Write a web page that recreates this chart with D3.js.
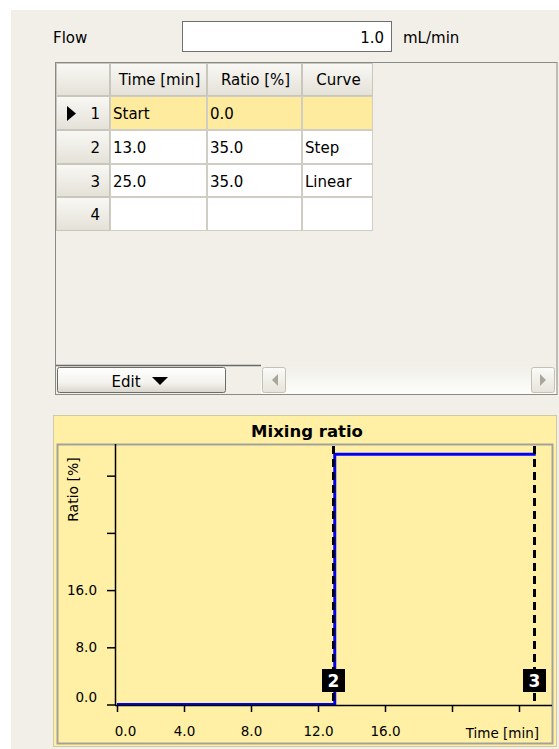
<!DOCTYPE html>
<html><head><meta charset="utf-8">
<script src="https://cdn.jsdelivr.net/npm/d3@7/dist/d3.min.js"></script>
<style>
html,body{margin:0;padding:0;background:#fff;}
svg{display:block;font-family:"DejaVu Sans",sans-serif;}
</style></head>
<body><svg id="c" width="559" height="749"></svg>
<script>
// ---- data ----
const flowValue = "1.0";
const flowUnit = "mL/min";
const columns = ["Time [min]", "Ratio [%]", "Curve"];
const rowNumbers = [1, 2, 3, 4];
const timeLabels = ["Start", "13.0", "25.0", ""];
const ratioLabels = ["0.0", "35.0", "35.0", ""];
const curveLabels = ["", "Step", "Linear", ""];
const times = [0, 13, 25];
const ratios = [0, 35, 35];
const curves = ["Start", "Step", "Linear"];
const markerIds = [2, 3];
const markerTimes = [13, 25];
const xTicks = [0, 4, 8, 12, 16, 20, 24];
const xTickLabels = ["0.0", "4.0", "8.0", "12.0", "16.0", "", ""];
const yTicks = [0, 8, 16, 24, 32];
const yTickLabels = ["0.0", "8.0", "16.0", "", ""];

const svg = d3.select("#c");
const defs = svg.append("defs");
function grad(id, stops) {
  const g = defs.append("linearGradient").attr("id", id).attr("x1", 0).attr("y1", 0).attr("x2", 0).attr("y2", 1);
  stops.forEach(s => g.append("stop").attr("offset", s[0]).attr("stop-color", s[1]));
}
grad("hdr", [[0, "#f9f8f4"], [1, "#e4e1d8"]]);
grad("btn", [[0, "#ffffff"], [0.6, "#f4f3ee"], [1, "#d8d5cb"]]);
grad("trk", [[0, "#f0efe9"], [1, "#fdfdfb"]]);
grad("sbtn", [[0, "#fbfbf8"], [1, "#e6e4da"]]);

const BG = "#f1efe8";
svg.append("rect").attr("x", 11).attr("y", 10).attr("width", 548).attr("height", 739).attr("fill", BG);

// ---- flow row ----
svg.append("text").attr("x", 53).attr("y", 43).attr("font-size", 15).attr("fill", "#000").text("Flow");
svg.append("rect").attr("x", 182.5).attr("y", 21.5).attr("width", 209).attr("height", 30)
  .attr("fill", "#fff").attr("stroke", "#707070");
svg.append("text").attr("x", 384).attr("y", 43).attr("font-size", 15).attr("text-anchor", "end").text(flowValue);
svg.append("text").attr("x", 403).attr("y", 43).attr("font-size", 15).text(flowUnit);

// ---- table ----
const colX = [56, 110, 207, 302, 373];
const rowY = [63, 96, 130, 164, 197, 231];
svg.append("rect").attr("x", 55.5).attr("y", 62.5).attr("width", 501.5).attr("height", 332)
  .attr("fill", BG).attr("stroke", "#8a8a86");
const tbl = svg.append("g").attr("font-size", 15);
for (let c = 0; c < 4; c++) {
  tbl.append("rect").attr("x", colX[c] + 0.5).attr("y", rowY[0] + 0.5)
    .attr("width", colX[c + 1] - colX[c] - 1).attr("height", rowY[1] - rowY[0] - 1)
    .attr("fill", "url(#hdr)").attr("stroke", "#c9c6bb");
  if (c > 0) tbl.append("text").attr("x", (colX[c] + colX[c + 1]) / 2 + 1).attr("y", rowY[0] + 22)
    .attr("text-anchor", "middle").text(columns[c - 1]);
}
rowNumbers.forEach((n, i) => {
  const y0 = rowY[i + 1], y1 = rowY[i + 2];
  tbl.append("rect").attr("x", colX[0] + 0.5).attr("y", y0 + 0.5).attr("width", colX[1] - colX[0] - 1)
    .attr("height", y1 - y0 - 1).attr("fill", "url(#hdr)").attr("stroke", "#c9c6bb");
  tbl.append("text").attr("x", 100).attr("y", (y0 + y1) / 2 + 6).attr("text-anchor", "end").text(n);
  const vals = [timeLabels[i], ratioLabels[i], curveLabels[i]];
  for (let c = 1; c < 4; c++) {
    tbl.append("rect").attr("x", colX[c] + 0.5).attr("y", y0 + 0.5).attr("width", colX[c + 1] - colX[c] - 1)
      .attr("height", y1 - y0 - 1).attr("fill", i === 0 ? "#ffeb9e" : "#fff").attr("stroke", "#cfcdc4");
    tbl.append("text").attr("x", colX[c] + 3).attr("y", (y0 + y1) / 2 + 6).text(vals[c - 1]);
  }
});
tbl.append("path").attr("d", "M67,106 L67,121 L76,113.5 Z").attr("fill", "#000");

// ---- edit bar ----
svg.append("line").attr("x1", 56).attr("x2", 261).attr("y1", 365.5).attr("y2", 365.5).attr("stroke", "#6a6a66").attr("stroke-width", 1.5);
svg.append("rect").attr("x", 57.5).attr("y", 367.5).attr("width", 168).attr("height", 25)
  .attr("rx", 2).attr("fill", "url(#btn)").attr("stroke", "#6d6d68");
svg.append("text").attr("x", 126).attr("y", 387).attr("font-size", 15).attr("text-anchor", "middle").text("Edit");
svg.append("path").attr("d", "M152,377 L168,377 L160,385 Z").attr("fill", "#000");
svg.append("rect").attr("x", 261).attr("y", 366).attr("width", 295).attr("height", 28).attr("fill", "url(#trk)");
[[262, "M278,374 L278,386 L272,380 Z"], [531, "M540,374 L540,386 L546,380 Z"]].forEach(b => {
  svg.append("rect").attr("x", b[0] + 0.5).attr("y", 367.5).attr("width", 23).attr("height", 25).attr("rx", 2)
    .attr("fill", "url(#sbtn)").attr("stroke", "#c4c1b3");
  svg.append("path").attr("d", b[1]).attr("fill", "#a9a79c");
});

// ---- chart panel ----
const YEL = "#fff0a6";
svg.append("rect").attr("x", 53.5).attr("y", 415.5).attr("width", 503).attr("height", 331)
  .attr("fill", YEL).attr("stroke", "#cfc9a4");
svg.append("text").attr("x", 307).attr("y", 437).attr("font-size", 16.5).attr("font-weight", "bold")
  .attr("text-anchor", "middle").text("Mixing ratio");
svg.append("rect").attr("x", 57.5).attr("y", 444.5).attr("width", 495).attr("height", 299)
  .attr("fill", YEL).attr("stroke", "#a3a29a").attr("stroke-width", 2);

const x = d3.scaleLinear().domain([0, 26]).range([117, 552.5]);
const y = d3.scaleLinear().domain([0, 36.36]).range([704.5, 444.5]);

const line = d3.line().x(d => x(d[0])).y(d => y(d[1]));
const pts = [];
times.forEach((t, i) => {
  if (i > 0 && curves[i] === "Step") pts.push([t, ratios[i - 1]]);
  pts.push([t, ratios[i]]);
});
svg.append("path").attr("d", line(pts)).attr("fill", "none").attr("stroke", "#0000ff").attr("stroke-width", 3)
  .attr("stroke-linejoin", "miter");

const xAxis = svg.append("g").attr("transform", "translate(0,705)")
  .call(d3.axisBottom(x).tickValues(xTicks).tickFormat((d, i) => xTickLabels[i]).tickSize(7).tickSizeOuter(0).tickPadding(14));
const yAxis = svg.append("g").attr("transform", "translate(115,0)")
  .call(d3.axisLeft(y).tickValues(yTicks).tickFormat((d, i) => yTickLabels[i]).tickSize(8).tickSizeOuter(0).tickPadding(10));
[xAxis, yAxis].forEach(a => {
  a.attr("font-family", "DejaVu Sans").attr("font-size", 13.5);
  a.selectAll("line").attr("stroke", "#000").attr("stroke-width", 1.5);
  a.selectAll("text").attr("fill", "#000");
});
// first labels nudged away from the axis corner, as in the reference
xAxis.selectAll(".tick text").filter((d, i) => i === 0).attr("dx", 8);
yAxis.selectAll(".tick text").filter((d, i) => i === 0).attr("dy", "-0.2em");
xAxis.select(".domain").attr("d", "M115,0.5H552").attr("stroke", "#000").attr("stroke-width", 1.5);
yAxis.select(".domain").attr("d", "M0.5,444V705").attr("stroke", "#000").attr("stroke-width", 1.5);

svg.append("text").attr("x", 539).attr("y", 738).attr("font-size", 13.5).attr("text-anchor", "end").text("Time [min]");
svg.append("text").attr("transform", "translate(78,489.5) rotate(-90)").attr("font-size", 14)
  .attr("text-anchor", "middle").text("Ratio [%]");

markerTimes.forEach((t, i) => {
  const mx = Math.round(x(t)) - 1.5;
  svg.append("line").attr("x1", mx).attr("x2", mx).attr("y1", 446).attr("y2", 705)
    .attr("stroke", "#000").attr("stroke-width", 3).attr("stroke-dasharray", "8,5");
  svg.append("rect").attr("x", mx - 11.5).attr("y", 669).attr("width", 23).attr("height", 23).attr("fill", "#000");
  svg.append("text").attr("x", mx).attr("y", 687).attr("font-size", 17).attr("font-weight", "bold")
    .attr("fill", "#fff").attr("text-anchor", "middle").text(markerIds[i]);
});
</script></body></html>
